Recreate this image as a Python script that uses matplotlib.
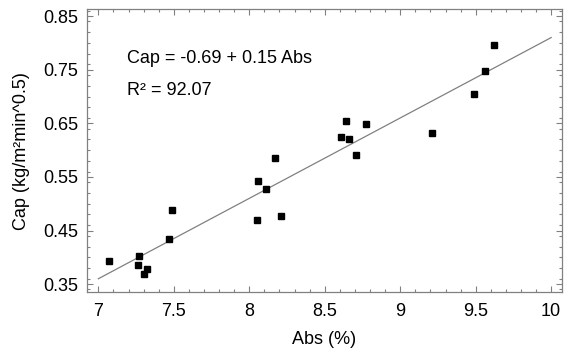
import numpy as np
import matplotlib.pyplot as plt
from matplotlib.ticker import MultipleLocator

plt.rcParams['font.family'] = ['Liberation Sans', 'DejaVu Sans']

abs_pct = [7.07, 7.27, 7.26, 7.30, 7.32, 7.47, 7.49, 8.05, 8.06, 8.11, 8.21, 8.17,
           8.64, 8.61, 8.66, 8.77, 8.71, 9.21, 9.49, 9.56, 9.62]
cap = [0.393, 0.403, 0.386, 0.369, 0.378, 0.435, 0.488, 0.469, 0.542, 0.528, 0.477, 0.586,
       0.655, 0.624, 0.621, 0.649, 0.590, 0.632, 0.705, 0.748, 0.797]
intercept = -0.69
slope = 0.15

fig = plt.figure(figsize=(5.64, 3.52), dpi=100)
ax = fig.add_axes([0.154, 0.170, 0.842, 0.804])

xl = np.array([7.0, 10.0])
ax.plot(xl, intercept + slope * xl, color='#808080', lw=0.9)
ax.plot(abs_pct, cap, 's', color='black', ms=5, mec='black')

ax.set_xlim(6.924, 10.07)
ax.set_ylim(0.335, 0.863)
ax.set_xticks([7, 7.5, 8, 8.5, 9, 9.5, 10])
ax.set_xticklabels(['7', '7.5', '8', '8.5', '9', '9.5', '10'])
ax.set_yticks([0.35, 0.45, 0.55, 0.65, 0.75, 0.85])
ax.xaxis.set_minor_locator(MultipleLocator(0.1))
ax.yaxis.set_minor_locator(MultipleLocator(0.02))

for s in ax.spines.values():
    s.set_color('#808080')
    s.set_linewidth(0.9)
ax.tick_params(which='both', direction='in', top=True, right=True, color='#808080', width=0.8)
ax.tick_params(which='major', length=4, labelsize=13)
ax.tick_params(which='minor', length=2.2)
ax.tick_params(axis='x', pad=7.5)
ax.tick_params(axis='y', pad=6)

ax.set_xlabel('Abs (%)', fontsize=13, labelpad=8)
ax.set_ylabel('Cap (kg/m²min^0.5)', fontsize=13, labelpad=10)

ax.text(0.084, 0.827, 'Cap = -0.69 + 0.15 Abs', transform=ax.transAxes, fontsize=13, va='center')
ax.text(0.084, 0.714, 'R² = 92.07', transform=ax.transAxes, fontsize=13, va='center')

fig.savefig('out.png', dpi=100)
